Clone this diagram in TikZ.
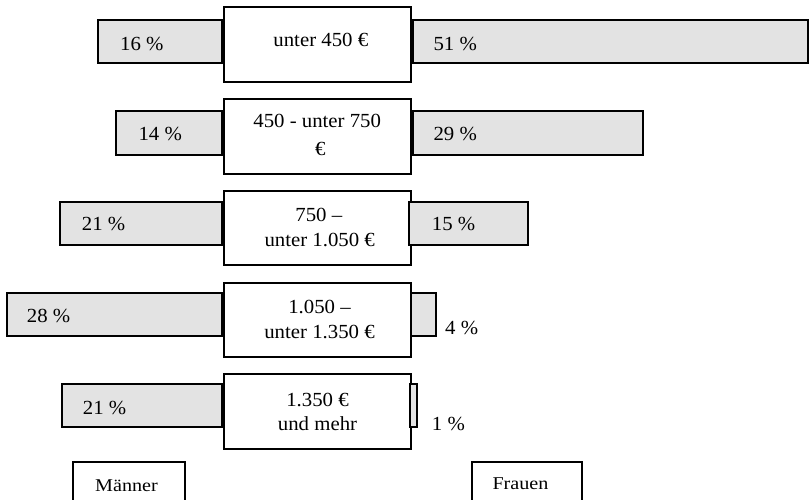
\documentclass[tikz,border=0pt]{standalone}
\usepackage{fontspec}
\setmainfont[FakeStretch=1.04]{Liberation Serif}
\newfontfamily\sexfont[FakeStretch=1.12]{Liberation Serif}
\usetikzlibrary{fit}
\definecolor{barfill}{HTML}{E3E3E3}
\begin{document}
\begin{tikzpicture}[x=1pt,y=-1pt,
  box/.style={draw=black, line width=2pt, inner sep=0pt, outer sep=0pt},
  bar/.style={box, fill=barfill},
  klasse/.style={box, fill=white},
  txt/.style={inner sep=0pt, anchor=base, font=\fontsize{20}{24}\selectfont},
  pct/.style={inner sep=0pt, anchor=base west, font=\fontsize{20}{24}\selectfont},
  sex/.style={inner sep=0pt, anchor=base west, font=\sexfont\fontsize{18}{22}\selectfont}]
\clip (0,0) rectangle (809,499);
% income class boxes
\node[klasse, fit={(224.3,7.3) (410.6,81.7)}] (k1) {};
\node[klasse, fit={(224.3,99) (410.6,173.7)}] (k2) {};
\node[klasse, fit={(224.3,190.7) (410.6,265.3)}] (k3) {};
\node[klasse, fit={(224.3,282.7) (410.6,357.3)}] (k4) {};
\node[klasse, fit={(224.3,374.3) (410.6,449)}] (k5) {};
% men bars
\node[bar, fit={(97.7,20) (222.3,63.3)}] (m1) {};
\node[bar, fit={(116.3,110.7) (222.3,154.7)}] (m2) {};
\node[bar, fit={(60.3,201.5) (222.3,245)}] (m3) {};
\node[bar, fit={(6.7,292.8) (222.3,336.3)}] (m4) {};
\node[bar, fit={(61.7,383.7) (222.3,427)}] (m5) {};
% women bars
\node[bar, fit={(412.7,20) (808.2,63.3)}] (f1) {};
\node[bar, fit={(412.7,110.7) (642.7,154.7)}] (f2) {};
\node[bar, fit={(409.3,201.5) (527.7,245)}] (f3) {};
\node[bar, fit={(410.7,292.8) (435.7,336.3)}] (f4) {};
\node[bar, fit={(410,383.7) (417.3,427)}] (f5) {};
% class texts
\node[txt] (t1) at (320.8,46.7) {unter 450 €};
\node[txt] (t2a) at (317.2,127.3) {450 - unter 750};
\node[txt] (t2b) at (320.3,155) {€};
\node[txt] (t3a) at (318.8,221.7) {750 –};
\node[txt] (t3b) at (319.7,246.3) {unter 1.050 €};
\node[txt] (t4a) at (319.5,313.3) {1.050 –};
\node[txt] (t4b) at (319.5,338.3) {unter 1.350 €};
\node[txt] (t5a) at (317.5,406) {1.350 €};
\node[txt] (t5b) at (317.5,430) {und mehr};
% percentages men
\node[pct] (pm1) at (120,50) {16 \%};
\node[pct] (pm2) at (138.3,140.7) {14 \%};
\node[pct] (pm3) at (81.7,230.7) {21 \%};
\node[pct] (pm4) at (26.7,322.7) {28 \%};
\node[pct] (pm5) at (82.7,414.5) {21 \%};
% percentages women
\node[pct] (pf1) at (433.3,50) {51 \%};
\node[pct] (pf2) at (433.3,140.7) {29 \%};
\node[pct] (pf3) at (431.7,230.7) {15 \%};
\node[pct] (pf4) at (445,334) {4 \%};
\node[pct] (pf5) at (431.7,430) {1 \%};
% legend boxes
\node[klasse, fit={(73,461.7) (185,530)}] (men) {};
\node[klasse, fit={(471.7,461.7) (581.7,530)}] (women) {};
\node[sex] (lmen) at (95,491) {Männer};
\node[sex] (lwomen) at (492.3,489.3) {Frauen};
\end{tikzpicture}
\end{document}
